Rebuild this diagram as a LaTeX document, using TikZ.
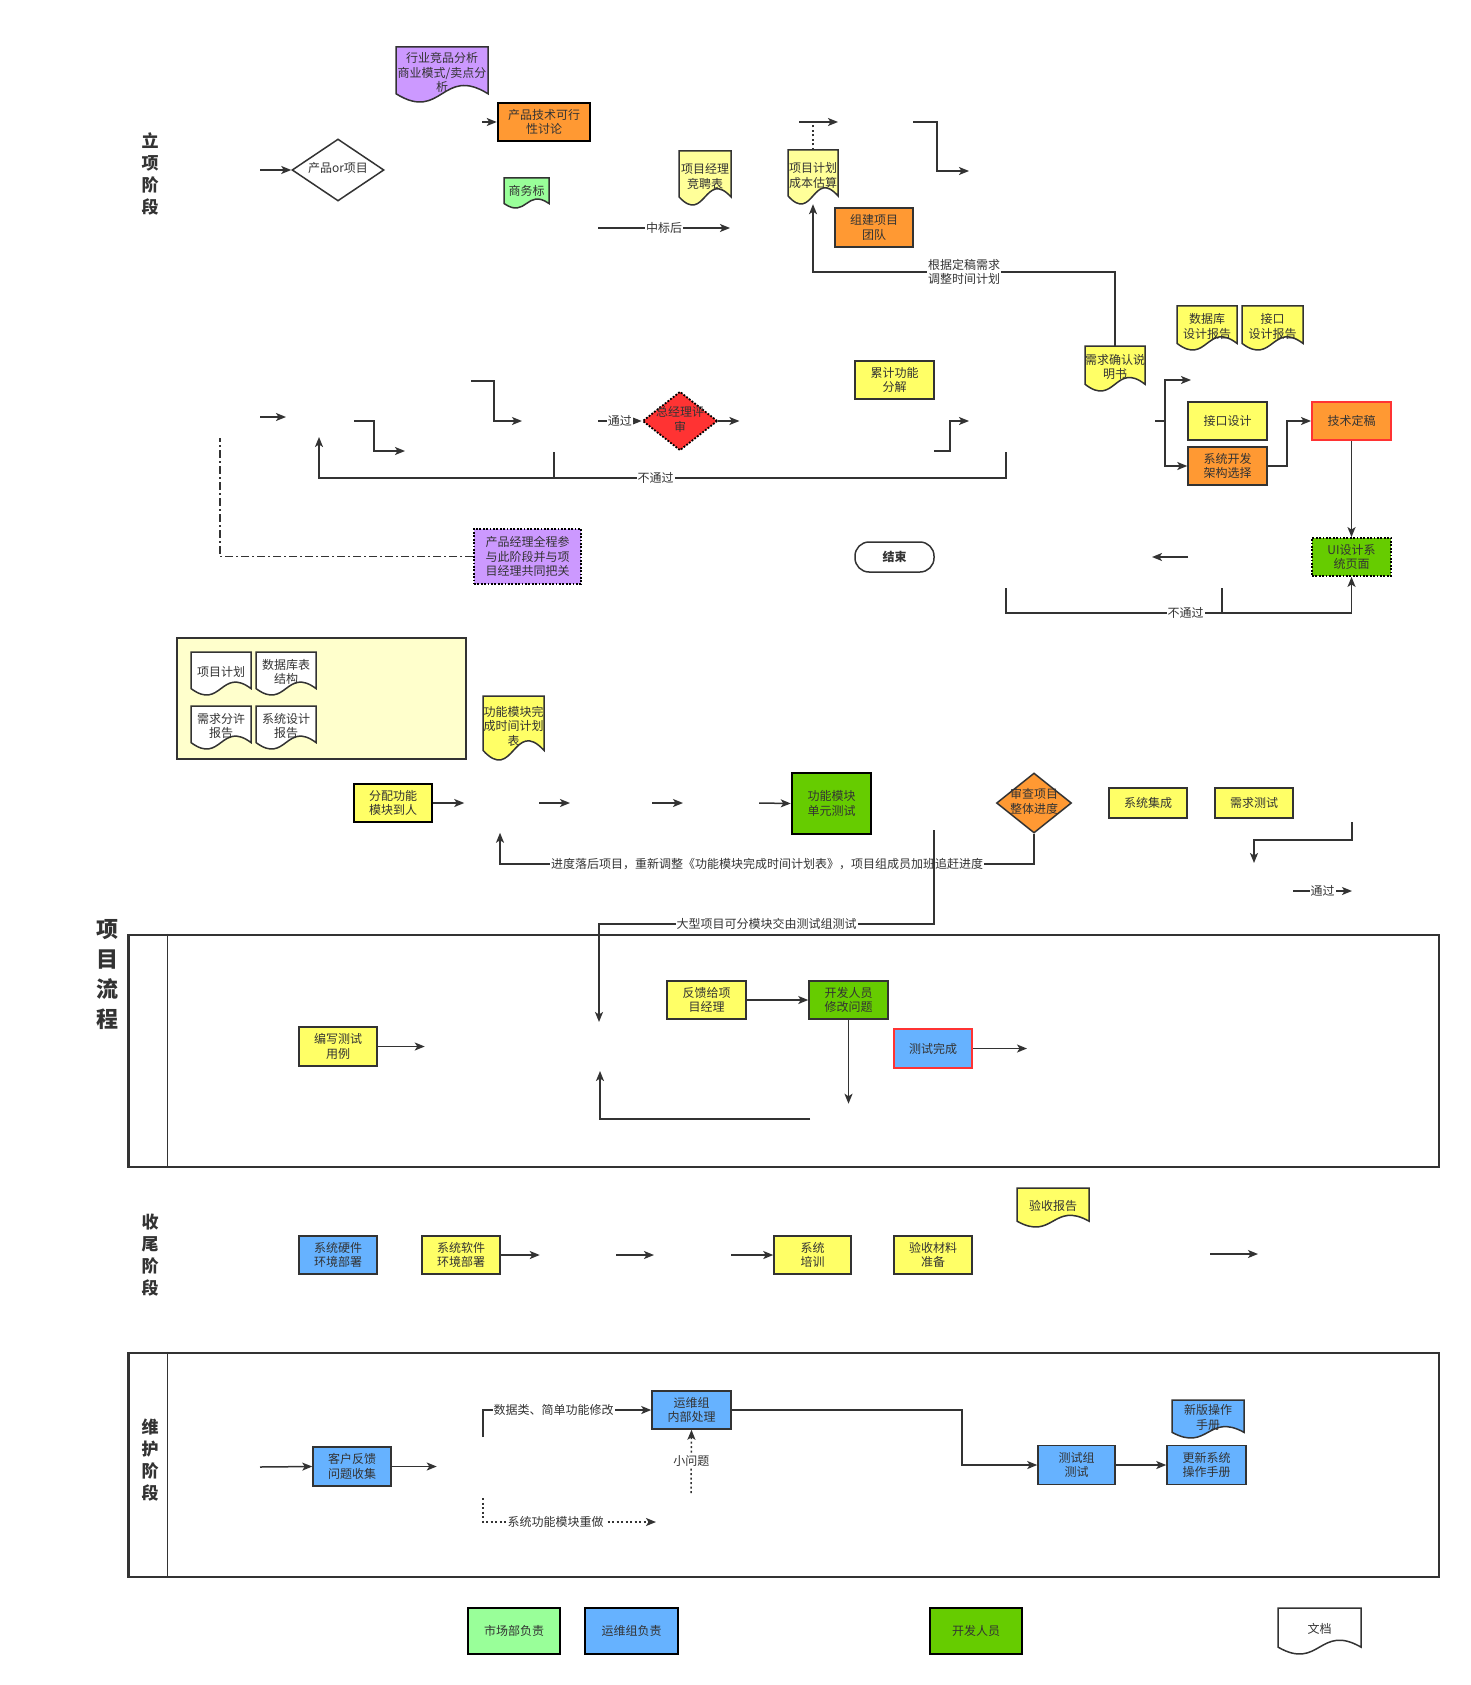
\documentclass[tikz,border=0pt]{standalone}
\usepackage{fontspec}
\setmainfont{Noto Sans CJK SC}
\usetikzlibrary{arrows.meta,shapes.geometric}
\definecolor{linec}{HTML}{333333}
\definecolor{txtc}{HTML}{333333}
\definecolor{ylw}{HTML}{FFFF66}
\definecolor{ltylw}{HTML}{FFFF99}
\definecolor{paleylw}{HTML}{FFFFCC}
\definecolor{orng}{HTML}{FF9933}
\definecolor{purp}{HTML}{CC99FF}
\definecolor{ltgrn}{HTML}{99FF99}
\definecolor{grn}{HTML}{66CC00}
\definecolor{blu}{HTML}{66B2FF}
\definecolor{redc}{HTML}{FF3333}

% document shape: wavy bottom, named text node on top (text sits a bit high)
\newcommand{\docnode}[7]{%
  \filldraw[docline, fill=#2] (#3,#4) -- (#3+#5,#4) -- (#3+#5,#4+0.85*#6)
    .. controls (#3+0.5*#5,#4+0.33*#6) and (#3+0.5*#5,#4+1.37*#6) .. (#3,#4+0.85*#6) -- cycle;
  \pgfmathsetlengthmacro\docraise{0.065*#6}%
  \node[doctext, minimum width=#5, minimum height=#6] (#1) at (#3+0.5*#5,#4+0.5*#6)
    {\raisebox{\docraise}{\begin{tabular}{@{}c@{}}#7\end{tabular}}};}
% zero-width text so a diamond keeps its own size
\newcommand{\ztext}[1]{\makebox[0pt]{\begin{tabular}{@{}c@{}}#1\end{tabular}}}

\begin{document}
\begin{tikzpicture}[x=1pt, y=-1pt, font=\fontsize{12}{14.5}\selectfont,
  blk/.style={draw=linec, line width=1.5pt, text=txtc, align=center, inner sep=0pt},
  sz/.style 2 args={minimum width=#1, minimum height=#2},
  ybox/.style={blk, fill=ylw},
  obox/.style={blk, fill=orng},
  gbox/.style={blk, fill=grn},
  bbox/.style={blk, fill=blu},
  heavy/.style={draw=black, line width=2.5pt},
  dotb/.style={draw=black, line width=1.8pt, dash pattern=on 1.8pt off 1.6pt},
  redb/.style={draw=redc, line width=2pt},
  decis/.style={blk, shape=diamond},
  docline/.style={draw=linec, line width=1.5pt},
  doctext/.style={text=txtc, align=center, inner sep=0pt},
  ln/.style={draw=linec, line width=1.5pt},
  arr/.style={ln, -{Stealth[length=10pt, width=8pt, inset=2.5pt]}},
  dotl/.style={dash pattern=on 2pt off 2.5pt},
  dashdot/.style={dash pattern=on 8pt off 3pt on 2pt off 3pt},
  lbl/.style={fill=white, text=txtc, inner sep=1pt, align=center},
  stage/.style={text=txtc, align=center, inner sep=0pt, font=\fontsize{17}{22}\selectfont\bfseries},
  lane/.style={draw=linec, line width=2.5pt}]
\fill[white] (0,0) rectangle (1470,1685);
\useasboundingbox (0,0) rectangle (1470,1685);

% ---- stage titles ----
\node[stage] (lxjd) at (150,174) {立\\项\\阶\\段};
\node[stage, font=\fontsize{22}{30}\selectfont\bfseries] (xmlc) at (107,975) {项\\目\\流\\程};
\node[stage] (swjd) at (150,1255) {收\\尾\\阶\\段};
\node[stage] (whjd) at (150,1460) {维\\护\\阶\\段};

% ---- lanes ----
\node[lane, sz={1310.5}{232}] (lane1) at (783.75,1051) {};
\draw[ln, line width=1.2pt] ([xshift=40.5]lane1.north west) -- ([xshift=40.5]lane1.south west);
\node[lane, sz={1310.5}{224}] (lane2) at (783.75,1465) {};
\draw[ln, line width=1.2pt] ([xshift=40.5]lane2.north west) -- ([xshift=40.5]lane2.south west);

% ---- 立项阶段 ----
\node[decis, fill=white, sz={92}{62}] (dmd1) at (338,170) {\ztext{产品or项目}};
\docnode{hyjp}{purp}{396}{47}{92}{55}{行业竞品分析\\商业模式/卖点分\\析}
\node[obox, heavy, sz={92}{38}] (cpjs) at (544,122) {产品技术可行\\性讨论};
\docnode{swb}{ltgrn}{504}{178}{45}{30}{商务标}
\docnode{xmjl}{ltylw}{679}{151}{52}{54}{项目经理\\竞聘表}
\docnode{xmjh}{ltylw}{788}{150}{50}{54}{项目计划\\成本估算}
\node[obox, sz={78}{39}] (zjxm) at (874,227.5) {组建项目\\团队};

% ---- requirements / design ----
\node[ybox, sz={79}{38}] (ljgn) at (894.5,380) {累计功能\\分解};
\node[decis, fill=redc, dotb, sz={75}{59}] (dmd2) at (680,421) {\ztext{总经理评\\审}};
\docnode{xqqr}{ylw}{1085}{346}{60}{45}{需求确认说\\明书}
\docnode{sjk}{ylw}{1177}{306}{60}{44}{数据库\\设计报告}
\docnode{jkbg}{ylw}{1242}{306}{61}{44}{接口\\设计报告}
\node[ybox, sz={79}{38}] (jksj) at (1227.5,421) {接口设计};
\node[obox, sz={79}{38}] (xtkf) at (1227.5,466) {系统开发\\架构选择};
\node[obox, redb, sz={79}{38}] (jsdg) at (1351.5,421) {技术定稿};
\node[gbox, dotb, sz={79}{38}] (uisj) at (1351.5,557) {UI设计系\\统页面};
\node[blk, fill=white, rounded corners=14pt, sz={79}{30}] (jieshu) at (894.5,557) {\bfseries 结束};
\node[blk, fill=purp, dotb, sz={107}{55}] (pm) at (527.5,556.5) {产品经理全程参\\与此阶段并与项\\目经理共同把关};

% ---- development ----
\node[blk, fill=paleylw, line width=1.8pt, sz={289}{121}] (rongqi) at (321.5,698.5) {};
\docnode{wd1}{white}{191}{652}{60}{43}{项目计划}
\docnode{wd2}{white}{256}{652}{60}{43}{数据库表\\结构}
\docnode{wd3}{white}{191}{706}{60}{43}{需求分许\\报告}
\docnode{wd4}{white}{256}{706}{60}{43}{系统设计\\报告}
\docnode{gnjh}{ylw}{483}{696}{61}{64}{功能模块完\\成时间计划\\表}
\node[ybox, heavy, sz={78}{38}] (fpgn) at (393,803) {分配功能\\模块到人};
\node[gbox, heavy, sz={79}{61}] (dycs) at (831.5,803.5) {功能模块\\单元测试};
\node[decis, fill=orng, sz={75}{60}] (dmd3) at (1034,803) {\ztext{审查项目\\整体进度}};
\node[ybox, sz={78}{30}] (xtjc) at (1148,803) {系统集成};
\node[ybox, sz={78}{30}] (xqcs) at (1254,803) {需求测试};

% ---- test lane ----
\node[ybox, sz={79}{38}] (fkxm) at (706.5,1000) {反馈给项\\目经理};
\node[gbox, sz={79}{38}] (kfxg) at (848.5,1000) {开发人员\\修改问题};
\node[ybox, sz={78}{39}] (bxcs) at (338,1046.5) {编写测试\\用例};
\node[bbox, redb, sz={78}{39}] (cswc) at (933,1048.5) {测试完成};

% ---- 收尾阶段 ----
\node[bbox, sz={78}{38}] (yjhj) at (338,1255) {系统硬件\\环境部署};
\node[ybox, sz={78}{38}] (rjhj) at (461,1255) {系统软件\\环境部署};
\node[ybox, sz={77}{38}] (xtpx) at (812.5,1255) {系统\\培训};
\node[ybox, sz={78}{38}] (yscl) at (933,1255) {验收材料\\准备};
\docnode{ysbg}{ylw}{1017}{1188}{72}{39}{验收报告}

% ---- 维护阶段 ----
\node[bbox, sz={78}{39}] (khfk) at (352,1466.5) {客户反馈\\问题收集};
\node[bbox, sz={79}{38}] (ywz) at (691.5,1410) {运维组\\内部处理};
\node[bbox, sz={77}{39}] (cszc) at (1076.5,1465) {测试组\\测试};
\node[bbox, sz={79}{39}] (gxsc) at (1206.5,1465) {更新系统\\操作手册};
\docnode{xbcz}{blu}{1172}{1400}{72}{38}{新版操作\\手册}

% ---- legend ----
\node[blk, heavy, fill=ltgrn, sz={92}{46}] (lg1) at (514,1631) {市场部负责};
\node[blk, heavy, fill=blu, sz={93}{46}] (lg2) at (631.5,1631) {运维组负责};
\node[blk, heavy, fill=grn, sz={92}{46}] (lg3) at (976,1631) {开发人员};
\docnode{lg4}{white}{1278}{1608}{83}{46}{文档}

% ---- connectors: 立项阶段 ----
\coordinate (in1) at (260,170);
\draw[arr] (in1) -- (dmd1.west);
\coordinate (in2) at (482,122);
\draw[arr] (in2) -- (cpjs.west);
\coordinate (zb1) at (598,228);
\draw[arr] (zb1) -- node[lbl]{中标后} ++(132,0);
\coordinate (up1) at (799,122);
\draw[ln, dotl] (xmjh.north) -- (xmjh.north |- up1);
\draw[arr] (up1) -- ++(39,0);
\coordinate (tz1) at (913,122);
\draw[arr] (tz1) -- ++(24,0) |- ++(32,49);
\draw[arr] (xqqr.north) -- ++(0,-74) -| node[lbl, pos=0.25]{根据定稿需求\\调整时间计划} (xmjh.south);

% ---- connectors: review row ----
\coordinate (in3) at (260,417);
\draw[arr] (in3) -- ++(26,0);
\coordinate (tz2) at (354,421);
\draw[arr] (tz2) -- ++(20,0) |- ++(31,30);
\coordinate (tz3) at (471,381);
\draw[arr] (tz3) -- ++(23,0) |- ++(28,40);
\coordinate (tg1) at (598,421);
\draw[arr] (tg1) -- node[lbl]{通过} (dmd2.west);
\draw[arr] (dmd2.east) -- ++(21,0);
\coordinate (bt1) at (1006,452);
\draw[arr] (bt1) -- ++(0,26) -- node[lbl, pos=0.51]{不通过} ++(-687,0) -- ++(0,-41);
\coordinate (bt2) at (554,452);
\draw[ln] (bt2) -- ++(0,26);
\coordinate (tz4) at (934,451);
\draw[arr] (tz4) -- ++(16,0) |- ++(19,-30);
\coordinate (fz1) at (1155,421);
\draw[ln] (fz1) -- ++(10,0) coordinate (fzm);
\draw[arr] (fzm) |- ++(26,-41);
\draw[arr] (fzm) |- (xtkf.west);
\draw[arr] (xtkf.east) -- ++(19,0) |- (jsdg.west);
\draw[arr] (jsdg) -- (uisj);
\coordinate (fh) at (1188,557);
\draw[arr] (fh) -- ++(-36,0);
\coordinate (bt3) at (1006,588);
\draw[arr] (bt3) -- ++(0,25) -| node[lbl, pos=0.26]{不通过} (uisj.south);
\coordinate (bt4) at (1222,588);
\draw[ln] (bt4) -- ++(0,25);
\draw[ln, dashdot] (pm.west) -| ++(-253,-119);

% ---- connectors: development ----
\draw[arr] (fpgn.east) -- ++(31,0);
\coordinate (kf1) at (539,803);
\draw[arr] (kf1) -- ++(31,0);
\coordinate (kf2) at (652,803);
\draw[arr] (kf2) -- ++(31,0);
\coordinate (kf3) at (759,803);
\draw[arr] (kf3) -- (dycs.west);
\draw[arr] (dmd3.south) -- ++(0,30) -| node[lbl, pos=0.25]{进度落后项目，重新调整《功能模块完成时间计划表》，项目组成员加班追赶进度} ++(-534,-31);
\coordinate (dx) at (934,830);
\draw[arr] (dx) -- ++(0,94) -| node[lbl, pos=0.25]{大型项目可分模块交由测试组测试} ++(-335,98);
\coordinate (xq) at (1352,822);
\draw[arr] (xq) -- ++(0,18) -| ++(-98,23);
\coordinate (tg2) at (1293,891);
\draw[arr] (tg2) -- node[lbl]{通过} ++(59,0);

% ---- connectors: test lane ----
\coordinate (hk) at (810,1119);
\draw[arr] (hk) -| ++(-210,-48);
\draw[arr] (fkxm) -- (kfxg);
\draw[arr] (kfxg.south) -- ++(0,84);
\draw[arr] (bxcs.east) -- ++(47,0);
\draw[arr] (cswc.east) -- ++(54,0);

% ---- connectors: 收尾阶段 ----
\draw[arr] (rjhj.east) -- ++(39,0);
\coordinate (sw1) at (616,1255);
\draw[arr] (sw1) -- ++(38,0);
\coordinate (sw2) at (731,1255);
\draw[arr] (sw2) -- (xtpx.west);
\coordinate (sw3) at (1210,1254);
\draw[arr] (sw3) -- ++(48,0);

% ---- connectors: 维护阶段 ----
\coordinate (wh1) at (260,1467);
\draw[arr] (wh1) -- (khfk.west);
\draw[arr] (khfk.east) -- ++(45,0);
\coordinate (fz2) at (483,1437);
\draw[arr] (fz2) |- node[lbl, pos=0.71]{数据类、简单功能修改} (ywz.west);
\coordinate (fz3) at (483,1498);
\draw[arr, dotl] (fz3) |- node[lbl, pos=0.71]{系统功能模块重做} ++(173,24);
\coordinate (xw) at (691,1493);
\draw[arr, dotl] (xw) -- node[lbl]{小问题} (ywz.south);
\draw[arr] (ywz.east) -- ++(230,0) |- (cszc.west);
\draw[arr] (cszc) -- (gxsc);
\end{tikzpicture}
\end{document}
